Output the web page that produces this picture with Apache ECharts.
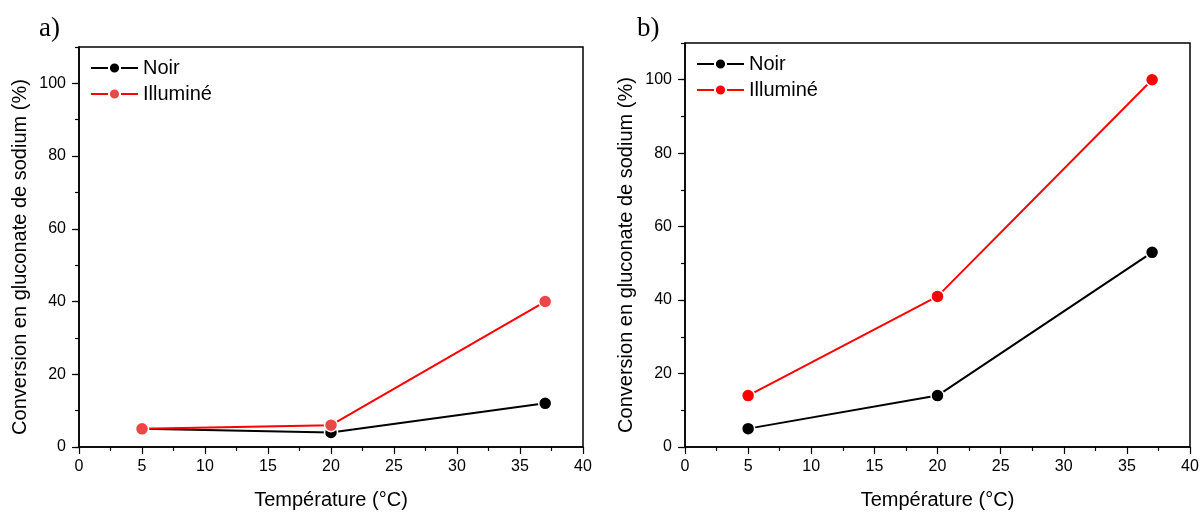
<!DOCTYPE html>
<html><head><meta charset="utf-8">
<script src="https://cdn.jsdelivr.net/npm/echarts@6/dist/echarts.min.js"></script>
<style>html,body{margin:0;padding:0;background:#fff}#c{width:1203px;height:515px}</style>
</head><body><div id="c"></div>
<script>
var temps = [5, 20, 37];
var aNoir = [5, 4, 12];
var aIllum = [5, 6, 40];
var bNoir = [5, 14, 53];
var bIllum = [14, 41, 100];
var yTickVals = [0, 20, 40, 60, 80, 100];
var seriesNames = ['Noir', 'Illuminé'];
var xTitle = 'Température (°C)';
var yTitle = 'Conversion en gluconate de sodium (%)';
var panelLabels = ['a)', 'b)'];

var FONT = '"Liberation Sans", Arial, sans-serif';
function pairs(xs, ys){ return xs.map(function(x,i){return [x, ys[i]];}); }

var grids = [
  {left:79, right:620, top:47, bottom:63, show:true, borderColor:'#000', borderWidth:1.5},
  {left:685, right:13, top:43, bottom:63, show:true, borderColor:'#000', borderWidth:1.5}
];
function xAx(g){
  return {type:'value', gridIndex:g, min:0, max:40, interval:5,
    name:xTitle, nameLocation:'middle', nameGap:43,
    nameTextStyle:{fontFamily:FONT, fontSize:20, color:'#000'},
    axisLine:{lineStyle:{color:'#000', width:1.5}},
    axisTick:{show:true, length:7, lineStyle:{color:'#000', width:1.2}},
    minorTick:{show:true, splitNumber:2, length:4, lineStyle:{color:'#000', width:1.2}},
    axisLabel:{fontFamily:FONT, fontSize:16, color:'#000', margin:12},
    splitLine:{show:false}};
}
function yAx(g){
  return {type:'value', gridIndex:g, min:0, max:110, interval:10,
    name:yTitle, nameLocation:'middle', nameGap:49,
    nameTextStyle:{fontFamily:FONT, fontSize:20, color:'#000', padding:[0, 20, 0, 0]},
    axisLine:{show:true, lineStyle:{color:'#000', width:1.5}},
    axisTick:{show:true, length:4, lineStyle:{color:'#000', width:1.2}},
    axisLabel:{show:false},
    splitLine:{show:false}};
}
function yAxMajor(g){
  return {type:'value', gridIndex:g, min:0, max:110, interval:20, position:'left',
    axisLine:{show:false},
    axisTick:{show:true, length:7, customValues:yTickVals, lineStyle:{color:'#000', width:1.2}},
    axisLabel:{fontFamily:FONT, fontSize:16, color:'#000', margin:13, customValues:yTickVals},
    splitLine:{show:false}};
}
function ser(name, g, xs, ys, lineColor, markColor){
  return {name:name, type:'line', xAxisIndex:g, yAxisIndex:g*2, data:pairs(xs, ys),
    symbol:'circle', symbolSize:13, showSymbol:true,
    lineStyle:{color:lineColor, width:2},
    itemStyle:{color:markColor, borderColor:'#fff', borderWidth:1.5},
    emphasis:{disabled:true}, z:3};
}
function legend(g, left, top){
  return {left:left, top:top, orient:'vertical', itemWidth:47, itemHeight:14, itemGap:4,
    data:['p'+g+'|'+seriesNames[0], 'p'+g+'|'+seriesNames[1]],
    formatter:function(n){return n.split('|')[1];},
    textStyle:{fontFamily:FONT, fontSize:20, lineHeight:22, color:'#000'}, selectedMode:false};
}

var option = {
  animation:false,
  backgroundColor:'#fff',
  grid:grids,
  xAxis:[xAx(0), xAx(1)],
  yAxis:[yAx(0), yAxMajor(0), yAx(1), yAxMajor(1)],
  legend:[legend(0, 85, 52), legend(1, 691, 48)],
  title:[
    {text:panelLabels[0], left:34, top:10, textStyle:{fontFamily:'"Liberation Serif", "Times New Roman", serif', fontSize:27, fontWeight:'normal', color:'#000'}},
    {text:panelLabels[1], left:632, top:10, textStyle:{fontFamily:'"Liberation Serif", "Times New Roman", serif', fontSize:27, fontWeight:'normal', color:'#000'}}
  ],
  series:[
    ser('p0|'+seriesNames[0], 0, temps, aNoir, '#000', '#000'),
    ser('p0|'+seriesNames[1], 0, temps, aIllum, '#ff0000', '#ea4848'),
    ser('p1|'+seriesNames[0], 1, temps, bNoir, '#000', '#000'),
    ser('p1|'+seriesNames[1], 1, temps, bIllum, '#ff0000', '#ff0000')
  ]
};
option.series[2].yAxisIndex = 2;
option.series[3].yAxisIndex = 2;
echarts.init(document.getElementById('c'), null, {renderer:'canvas'}).setOption(option);
</script></body></html>
